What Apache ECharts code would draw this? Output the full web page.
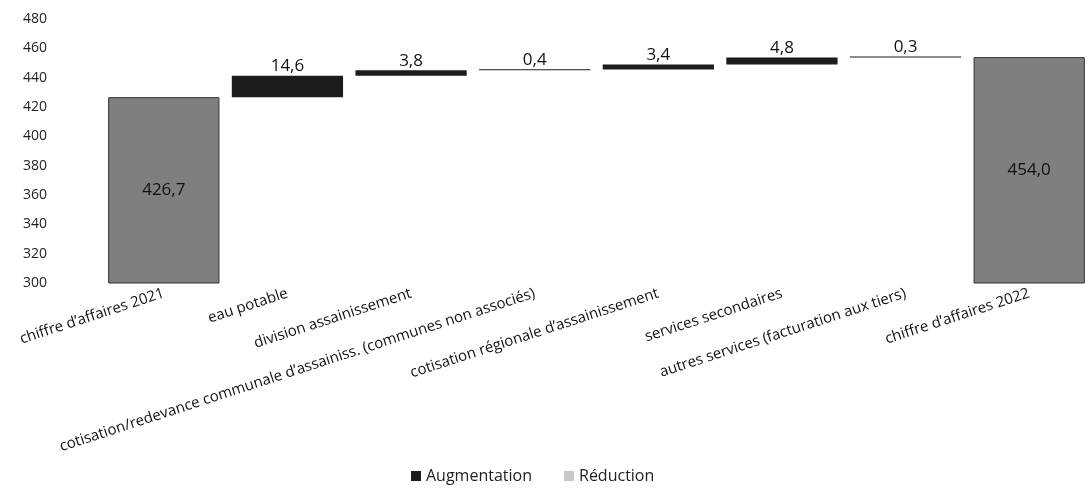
<!DOCTYPE html>
<html><head><meta charset="utf-8">
<script src="https://cdn.jsdelivr.net/npm/echarts@6/dist/echarts.min.js"></script>
<style>html,body{margin:0;padding:0;background:#fff}#c{width:1091px;height:489px}</style>
</head><body><div id="c"></div>
<script>
const categories = [
  "chiffre d\u2019affaires 2021",
  "eau potable",
  "division assainissement",
  "cotisation/redevance communale d\u2019assainiss. (communes non associés)",
  "cotisation régionale d\u2019assainissement",
  "services secondaires",
  "autres services (facturation aux tiers)",
  "chiffre d\u2019affaires 2022"
];
const startTotal = 426.7;
const increases = [14.6, 3.8, 0.4, 3.4, 4.8, 0.3];
const endTotal = 454.0;
const yTicks = [300, 320, 340, 360, 380, 400, 420, 440, 460, 480];

const fmt = v => v.toFixed(1).replace('.', ',');
// build waterfall series from data
const base = [], inc = [], tot = [];
let run = startTotal;
base.push('-'); inc.push('-'); tot.push(startTotal);
increases.forEach(v => { base.push(run); inc.push(v); tot.push('-'); run += v; });
base.push('-'); inc.push('-'); tot.push(endTotal);

const chart = echarts.init(document.getElementById('c'));
chart.setOption({
  animation: false,
  textStyle: { fontFamily: 'Open Sans, sans-serif' },
  grid: { left: 102, width: 992, top: 19, bottom: 206 },
  legend: {
    data: ['Augmentation', 'Réduction'],
    bottom: 0, left: 406,
    itemWidth: 10, itemHeight: 10, itemGap: 32,
    icon: 'rect',
    textStyle: { fontSize: 16, color: '#222', fontFamily: 'Open Sans, sans-serif' }
  },
  xAxis: {
    type: 'category', data: categories,
    axisLine: { show: false }, axisTick: { show: false },
    axisLabel: { interval: 0, rotate: 18, fontSize: 15, color: '#111', margin: 10 }
  },
  yAxis: {
    type: 'value', min: yTicks[0], max: yTicks[yTicks.length - 1], interval: 20,
    splitLine: { show: false }, axisLine: { show: false }, axisTick: { show: false },
    axisLabel: { fontSize: 14, color: '#222', margin: 55 }
  },
  series: [
    { name: 'base', type: 'bar', stack: 'w', data: base, barCategoryGap: '10%',
      itemStyle: { color: 'transparent' }, silent: true },
    { name: 'Augmentation', type: 'bar', stack: 'w', data: inc, barMinHeight: 1,
      itemStyle: { color: '#1c1c1c' },
      label: { show: true, position: 'top', formatter: p => fmt(p.value), fontSize: 17, color: '#111', distance: 1 } },
    { name: 'Réduction', type: 'bar', stack: 'w', data: [], itemStyle: { color: '#c8c8c8' } },
    { name: 'Total', type: 'bar', stack: 'w', data: tot,
      itemStyle: { color: '#7f7f7f', borderColor: '#333', borderWidth: 1 },
      label: { show: true, position: 'inside', formatter: p => fmt(p.value), fontSize: 17, color: '#111' } }
  ]
});
</script></body></html>
